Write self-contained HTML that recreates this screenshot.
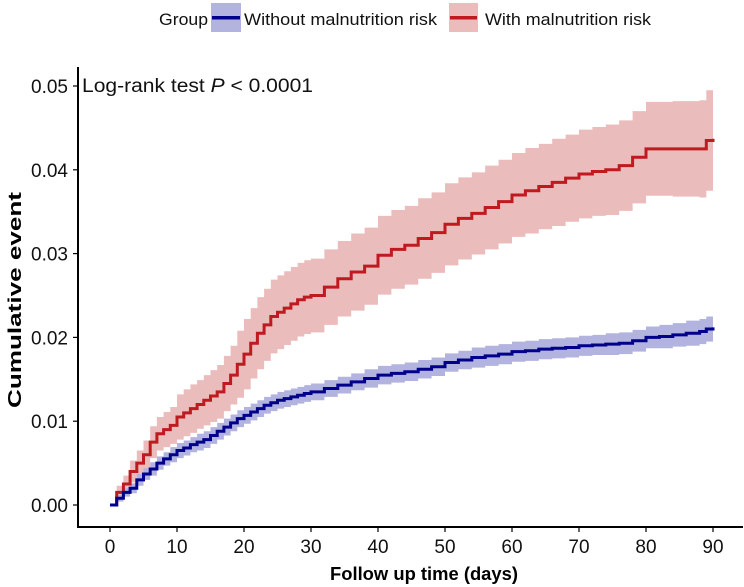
<!DOCTYPE html>
<html><head><meta charset="utf-8"><style>
html,body{margin:0;padding:0;background:#fff;}
svg{display:block;font-family:"Liberation Sans",Arial,sans-serif;}
</style></head><body>
<svg id="chart" width="744" height="587" viewBox="0 0 744 587">
<g>
  <text x="159" y="25" font-size="17" fill="#111" textLength="49" lengthAdjust="spacingAndGlyphs">Group</text>
  <rect x="211" y="3" width="30" height="29" fill="#b3b3df"/>
  <rect x="212" y="16" width="28" height="3.5" fill="#00008b"/>
  <text x="244" y="25" font-size="17" fill="#111" textLength="193" lengthAdjust="spacingAndGlyphs">Without malnutrition risk</text>
  <rect x="449" y="3" width="29" height="29" fill="#ebbcbc"/>
  <rect x="450" y="16" width="27" height="3.5" fill="#bf1a1f"/>
  <text x="485" y="25" font-size="17" fill="#111" textLength="166" lengthAdjust="spacingAndGlyphs">With malnutrition risk</text>
</g>
<g id="plot"></g>
<text x="82" y="92" font-size="19" fill="#111" textLength="231" lengthAdjust="spacingAndGlyphs">Log-rank test <tspan font-style="italic">P</tspan> &lt; 0.0001</text>
<text transform="translate(21,300) rotate(-90)" text-anchor="middle" font-size="18" font-weight="bold" fill="#000" textLength="216" lengthAdjust="spacingAndGlyphs">Cumulative event</text>
<text x="424" y="580" text-anchor="middle" font-size="18" font-weight="bold" fill="#000" textLength="188" lengthAdjust="spacingAndGlyphs">Follow up time (days)</text>
</svg>
<script>
const days = [0,1,2,3,4,5,6,7,8,9,10,11,12,13,14,15,16,17,18,19,20,21,22,23,24,25,26,27,28,29,30,32,34,36,38,40,42,44,46,48,50,52,54,56,58,60,62,64,66,68,70,72,74,76,78,80,82,84,86,88,89,90];
const withRisk = [0,0.0015,0.0025,0.004,0.005,0.006,0.0075,0.0085,0.009,0.0095,0.0105,0.011,0.0115,0.012,0.0125,0.013,0.0135,0.0145,0.0155,0.0168,0.018,0.0193,0.0205,0.0215,0.0225,0.023,0.0235,0.024,0.0245,0.0248,0.025,0.026,0.027,0.0278,0.0285,0.0298,0.0305,0.031,0.0318,0.0325,0.0335,0.0342,0.0348,0.0355,0.0362,0.037,0.0375,0.038,0.0385,0.039,0.0395,0.0398,0.040,0.0405,0.0415,0.0425,0.0425,0.0425,0.0425,0.0425,0.0435,0.0437];
const withSpread = [0,0.0008,0.001,0.0013,0.0015,0.0017,0.0019,0.002,0.0021,0.0022,0.0027,0.0028,0.0029,0.0029,0.003,0.0031,0.0032,0.0033,0.0035,0.004,0.0042,0.0042,0.0043,0.0043,0.0044,0.0044,0.0044,0.0044,0.0044,0.0044,0.0044,0.0045,0.0045,0.0046,0.0046,0.0047,0.0047,0.0047,0.0048,0.0048,0.0049,0.0049,0.0049,0.005,0.005,0.005,0.0051,0.0051,0.0052,0.0052,0.0053,0.0053,0.0054,0.0054,0.0055,0.0056,0.0056,0.0057,0.0057,0.0058,0.006,0.006];
const withoutRisk = [0,0.0008,0.0015,0.002,0.003,0.0037,0.0043,0.005,0.0055,0.006,0.0065,0.0068,0.0072,0.0075,0.0078,0.0083,0.0088,0.0093,0.0098,0.0103,0.0107,0.0111,0.0115,0.0119,0.0122,0.0125,0.0127,0.0129,0.0131,0.0133,0.0135,0.0139,0.0143,0.0147,0.0151,0.0155,0.0157,0.0159,0.0162,0.0165,0.017,0.0173,0.0176,0.0178,0.018,0.0183,0.0184,0.0186,0.0187,0.0188,0.019,0.0191,0.0192,0.0193,0.0196,0.02,0.0201,0.0203,0.0205,0.0207,0.021,0.0212];
const withoutSpread = [0,0.0004,0.0005,0.0006,0.0007,0.0007,0.0008,0.0008,0.0008,0.0009,0.0009,0.0009,0.0009,0.001,0.001,0.001,0.001,0.001,0.001,0.001,0.001,0.001,0.001,0.001,0.001,0.001,0.001,0.001,0.001,0.001,0.001,0.001,0.001,0.001,0.0011,0.0011,0.0011,0.0011,0.0011,0.0011,0.0011,0.0011,0.0012,0.0012,0.0012,0.0012,0.0012,0.0012,0.0012,0.0012,0.0012,0.0012,0.0013,0.0013,0.0013,0.0013,0.0014,0.0014,0.0015,0.0015,0.0015,0.0015];
const xTicks = [0,10,20,30,40,50,60,70,80,90];
const yTicks = [0,0.01,0.02,0.03,0.04,0.05];
const yTickLabels = ["0.00","0.01","0.02","0.03","0.04","0.05"];

const NS = "http://www.w3.org/2000/svg";
const X = d => 110 + d * 6.7;
const Y = v => 505 - v * 8380;
const g = document.getElementById('plot');
function mk(tag, attrs){const e=document.createElementNS(NS,tag);for(const k in attrs)e.setAttribute(k,attrs[k]);g.appendChild(e);return e;}
function stepPts(vals){const p=[[X(days[0]),Y(vals[0])]];for(let i=1;i<days.length;i++){p.push([X(days[i]),Y(vals[i-1])]);p.push([X(days[i]),Y(vals[i])]);}return p;}
function band(vals, spread, fill, name){
  const up=stepPts(vals.map((v,i)=>v+spread[i]));
  const lo=stepPts(vals.map((v,i)=>Math.max(0,v-spread[i]))).reverse();
  const e=mk('polygon',{points:up.concat(lo).map(p=>p.join(',')).join(' '),fill:fill});
  
  
}
function line(vals, color, name){
  const e=mk('polyline',{points:stepPts(vals).map(p=>p.join(',')).join(' '),fill:'none',stroke:color,'stroke-width':3});
  
  
}
band(withRisk, withSpread, '#ebbcbc', 'with-risk-ci-band');
band(withoutRisk, withoutSpread, '#b3b3df', 'without-risk-ci-band');
line(withRisk, '#bf1a1f', 'with-risk-line');
line(withoutRisk, '#00008b', 'without-risk-line');

const ax=mk('line',{x1:78,y1:67,x2:78,y2:528,stroke:'#000','stroke-width':2});


const bx=mk('line',{x1:77,y1:527,x2:743,y2:527,stroke:'#000','stroke-width':2});


yTicks.forEach((v,i)=>{
  const t=mk('line',{x1:73,y1:Y(v),x2:78,y2:Y(v),stroke:'#000','stroke-width':1.2});
  
  
  const l=mk('text',{x:68,y:Y(v)+7,'text-anchor':'end','font-size':19,fill:'#111'});
  l.textContent=yTickLabels[i];
  
  
});
xTicks.forEach(d=>{
  const t=mk('line',{x1:X(d),y1:527,x2:X(d),y2:532,stroke:'#000','stroke-width':1.2});
  
  
  const l=mk('text',{x:X(d),y:553,'text-anchor':'middle','font-size':19,fill:'#111'});
  l.textContent=String(d);
  
  
});
</script>
</body></html>
